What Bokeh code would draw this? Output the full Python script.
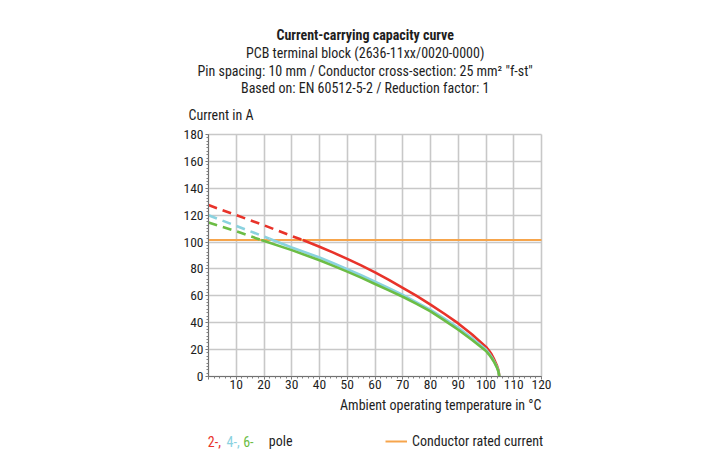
from bokeh.plotting import figure
from bokeh.models import (Range1d, SingleIntervalTicker, LinearAxis, Grid,
                          Legend, LegendItem)
from bokeh.core.properties import value
from bokeh.embed import file_html
from bokeh.resources import INLINE

# ---- data ----
title_lines = [
    "Current-carrying capacity curve",
    "PCB terminal block (2636-11xx/0020-0000)",
    "Pin spacing: 10 mm / Conductor cross-section: 25 mm\u00b2 \"f-st\"",
    "Based on: EN 60512-5-2 / Reduction factor: 1",
]
y_title = "Current in A"
x_title = "Ambient operating temperature in \u00b0C"

temps_red_dash = [0, 10, 20, 30, 34]
red_dash = [127.5, 120, 112.5, 104.5, 101.5]
temps_red = [34, 40, 45, 50, 55, 60, 65, 70, 75, 80, 85, 90, 95, 100,
             101, 102, 103, 104, 104.5, 104.8]
red = [101.5, 96.5, 92.1, 87.5, 82.6, 77.5, 71.9, 66, 59.9, 53.5, 46.7, 39.5,
       31.2, 22, 19.5, 16.5, 12.5, 7.8, 4.5, 0]

temps_blue_dash = [0, 10, 22]
blue_dash = [120, 112, 102.5]
temps_blue = [22, 30, 40, 45, 50, 55, 60, 65, 70, 75, 80, 85, 90, 95, 100,
              101, 102, 103, 104, 104.5, 104.8]
blue = [102.5, 96, 88.5, 84.2, 79.8, 75.3, 70.6, 65.7, 60.6, 55.2, 49.6, 43.1,
        36.2, 28.4, 20, 17.5, 14.5, 11, 6.8, 3.8, 0]

temps_green_dash = [0, 10, 19]
green_dash = [114.5, 108, 101.5]
temps_green = [19, 30, 40, 45, 50, 55, 60, 65, 70, 75, 80, 85, 90, 95, 100,
               101, 102, 103, 104, 104.5, 104.8]
green = [101.5, 94, 86.5, 82.3, 78, 73.5, 68.8, 64.1, 59.3, 54, 48.4, 41.8,
         34.8, 27.2, 19, 16.5, 13.8, 10.5, 6.3, 3.5, 0]

temps_rated = [0, 120]
rated = [101.5, 101.5]

pole_labels = ["2-,", "4-,", "6-"]
pole_text = "pole"
rated_text = "Conductor rated current"

x_min, x_max, x_step = 0, 120, 10
y_min, y_max, y_step = 0, 180, 20

# ---- style ----
FONT = "Roboto Condensed"
RED = "#e8332a"
BLUE = "#8ad2df"
GREEN = "#6cbd45"
ORANGE = "#f6a54c"
TXT = "#1e1e1e"
GRID = "#c8c8c8"

W, H = 721, 457
PL, PR, PT, PB = 208, 541, 134, 376   # plot box in figure pixels
sx = (PR - PL) / (x_max - x_min)
sy = (PB - PT) / (y_max - y_min)

p = figure(width=W, height=H, output_backend="svg", toolbar_location=None,
           x_axis_type=None, y_axis_type=None,
           x_range=Range1d(x_min - PL / sx, x_max + (W - PR) / sx),
           y_range=Range1d(y_min - (H - PB) / sy, y_max + PT / sy),
           min_border=0)
p.outline_line_color = None
p.background_fill_color = "white"
p.border_fill_color = "white"
p.xgrid.visible = False
p.ygrid.visible = False

xt = SingleIntervalTicker(interval=x_step, num_minor_ticks=5)
yt = SingleIntervalTicker(interval=y_step, num_minor_ticks=8)
xaxis = LinearAxis(ticker=xt, fixed_location=y_min, bounds=(x_min, x_max))
yaxis = LinearAxis(ticker=yt, fixed_location=x_min, bounds=(y_min, y_max))
xaxis.major_label_overrides = {0: ""}
for ax in (xaxis, yaxis):
    ax.axis_line_color = "#707070"
    ax.major_tick_line_color = "#707070"
    ax.minor_tick_line_color = "#808080"
    ax.major_tick_in = 0
    ax.major_tick_out = 3
    ax.minor_tick_in = 0
    ax.minor_tick_out = 2
    ax.major_label_text_font = FONT
    ax.major_label_text_font_size = "13.5px"
    ax.major_label_text_color = TXT
xaxis.major_label_standoff = 0
yaxis.major_label_standoff = 2
p.add_layout(xaxis, "below")
p.add_layout(yaxis, "left")

gx = Grid(dimension=0, ticker=xt, bounds=(x_min, x_max), cross_bounds=(y_min, y_max),
          grid_line_color=GRID, grid_line_width=1.6)
gy = Grid(dimension=1, ticker=yt, bounds=(y_min, y_max), cross_bounds=(x_min, x_max),
          grid_line_color=GRID, grid_line_width=1.6)
p.add_layout(gx)
p.add_layout(gy)

# rated current
r_rated = p.line(temps_rated, rated, line_color=ORANGE, line_width=2)

LW = 2.6
DASH = "9 6"
p.line(temps_red_dash, red_dash, line_color=RED, line_width=LW, line_dash=DASH)
p.line(temps_red, red, line_color=RED, line_width=LW, line_join="round")
p.line(temps_blue_dash, blue_dash, line_color=BLUE, line_width=LW, line_dash=DASH)
p.line(temps_blue, blue, line_color=BLUE, line_width=LW, line_join="round")
p.line(temps_green_dash, green_dash, line_color=GREEN, line_width=LW, line_dash=DASH)
p.line(temps_green, green, line_color=GREEN, line_width=LW, line_join="round")

# ---- texts ----
def px_x(fx):
    return x_min + (fx - PL) / sx

def px_y(fy):
    return y_min + (PB - fy) / sy

def txt(fx, fy, text, color=TXT, size="14px", align="left", bold=False):
    p.text(x=[px_x(fx)], y=[px_y(fy)], text=[text], text_font=value(FONT),
           text_font_size=size, text_color=color, text_align=align,
           text_baseline="middle",
           text_font_style="bold" if bold else "normal")

title_fy = [34.3, 52.3, 70.0, 87.7]
for i, (t, fy) in enumerate(zip(title_lines, title_fy)):
    txt(364.7, fy, t, size="14px", align="center", bold=(i == 0))

txt(188, 114.5, y_title)
txt(PR, 404.3, x_title, align="right")

leg_fy = 440.7
for t, fx, c in zip(pole_labels, [207.3, 226.0, 242.7], [RED, BLUE, GREEN]):
    txt(fx, leg_fy, t, color=c)
txt(268.3, leg_fy, pole_text)

legend = Legend(items=[LegendItem(label=rated_text, renderers=[r_rated])],
                location=(385, H - leg_fy - 8), orientation="horizontal",
                padding=0, margin=0, spacing=0,
                glyph_width=22, glyph_height=16, label_height=16,
                label_standoff=5, border_line_color=None,
                background_fill_alpha=0,
                label_text_font=FONT, label_text_font_size="14px",
                label_text_color=TXT)
p.add_layout(legend, "center")

open("out.html", "w").write(file_html(p, INLINE))
